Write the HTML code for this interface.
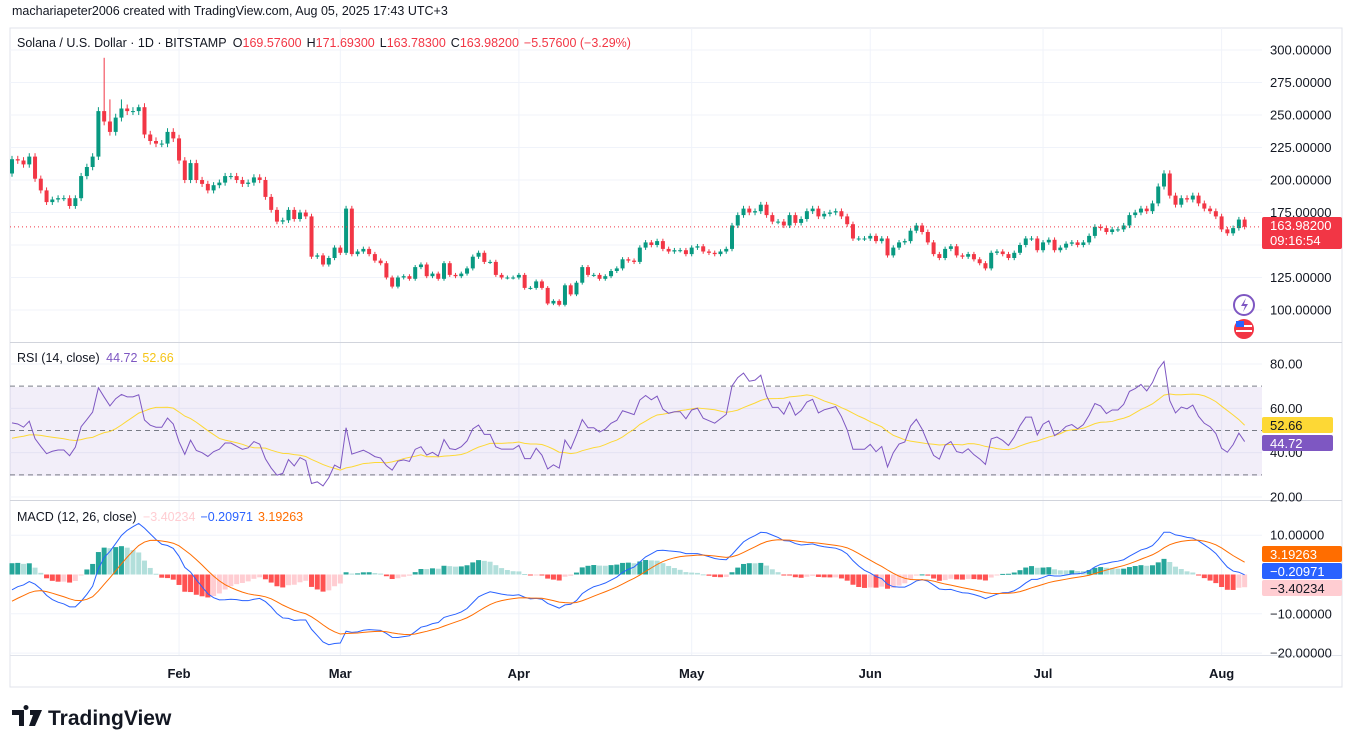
<!DOCTYPE html>
<html><head><meta charset="utf-8">
<style>
html,body{margin:0;padding:0;background:#fff;}
body{width:1355px;height:747px;overflow:hidden;font-family:"Liberation Sans",sans-serif;}
svg text{font-family:"Liberation Sans",sans-serif;}
</style></head>
<body>
<svg id="chart" width="1355" height="747" viewBox="0 0 1355 747" xmlns="http://www.w3.org/2000/svg">
  <text x="12" y="15" font-size="12.5" fill="#131722">machariapeter2006 created with TradingView.com, Aug 05, 2025 17:43 UTC+3</text>
  <rect x="10" y="28" width="1332" height="659" fill="none" stroke="#e0e3eb"/>
  <g id="grid"></g>
  <rect x="10" y="387" width="1252" height="89" fill="#7e57c2" fill-opacity="0.1"/>
  <g id="marks"></g>
  <line x1="10" x2="1342" y1="342.5" y2="342.5" stroke="#d1d4dc"/>
  <line x1="10" x2="1342" y1="500.5" y2="500.5" stroke="#d1d4dc"/>
  <line x1="10" x2="1342" y1="655.5" y2="655.5" stroke="#e0e3eb"/>
  <g id="axes"></g>
  <text x="17" y="47" font-size="12.5" fill="#131722">Solana / U.S. Dollar · 1D · BITSTAMP <tspan dx="3">O</tspan><tspan fill="#f23645">169.57600</tspan><tspan dx="5">H</tspan><tspan fill="#f23645">171.69300</tspan><tspan dx="5">L</tspan><tspan fill="#f23645">163.78300</tspan><tspan dx="5">C</tspan><tspan fill="#f23645">163.98200</tspan><tspan dx="5" fill="#f23645">−5.57600 (−3.29%)</tspan></text>
  <text x="17" y="362" font-size="12.5" fill="#131722">RSI (14, close) <tspan dx="3" fill="#7e57c2">44.72</tspan><tspan dx="5" fill="#f5c518">52.66</tspan></text>
  <text x="17" y="521" font-size="12.5" fill="#131722">MACD (12, 26, close) <tspan dx="3" fill="#ffcdd2">−3.40234</tspan><tspan dx="5" fill="#2962ff">−0.20971</tspan><tspan dx="5" fill="#ff6d00">3.19263</tspan></text>
  <g>
    <path d="M12 710h12v16h-5v-11h-7z M26 710a2.5 2.5 0 1 1 0.01 0z M30 710h12l-7 16h-6l4-11h-3z" fill="#131722"/>
    <text x="48" y="725" font-size="21" font-weight="bold" fill="#131722">TradingView</text>
  </g>
  <g><circle cx="1244" cy="305" r="10" fill="#fff" stroke="#7e57c2" stroke-width="2"/><path d="M1246 298l-5 8h4l-2 6 5-8h-4z" fill="#7e57c2"/></g>
  <g><circle cx="1244" cy="329" r="10" fill="#f23645"/><rect x="1236" y="325" width="16" height="2" fill="#fff"/><rect x="1236" y="330" width="16" height="2" fill="#fff"/><rect x="1236" y="321" width="8" height="6" fill="#2962ff"/></g>
</svg>
<script>
const closes = [
216,215,212,218,201,192,183,185,186,186,180,186,203,210,218,253,245,237,248,255,253,253,256,235,230,228,228,237,232,
215,200,213,200,197,192,196,198,203,203,200,197,198,202,200,187,177,168,169,177,170,175,172,141,142,135,140,148,
144,178,143,145,147,143,138,136,125,118,125,126,124,133,135,126,128,124,136,127,126,128,132,141,144,137,137,127,125,125,125,
127,117,117,122,117,105,107,104,119,112,121,133,127,127,124,126,130,132,139,138,137,148,152,150,153,147,145,146,146,143,
148,149,145,144,143,145,147,165,173,178,175,176,181,173,168,168,165,173,167,170,176,178,172,174,175,176,172,166,155,155,155,
157,153,155,142,148,152,153,161,165,160,152,143,140,147,149,142,141,143,139,136,132,144,145,143,140,144,150,155,155,146,
152,154,146,148,151,152,150,152,157,164,163,160,162,162,165,173,175,178,176,182,195,205,188,181,186,185,188,182,178,176,172,
162,159,163,169.576,163.982];
const highs = {16:294, 17:262, 19:262, 22:258};
const firstOpen = 205;
// warm-up seeds (state before the first visible bar)
const seedAvgGain = 4.2, seedAvgLoss = 4.4, seedRsiMa = 46;
const seedEma12 = 207, seedEma26 = 212, seedSignal = -7.5;
const priceTicks = [300,275,250,225,200,175,125,100];
const rsiTicks = [80,60,40,20];
const macdTicks = [10,-10,-20];
const monthLabels = ["Feb","Mar","Apr","May","Jun","Jul","Aug"];
const monthIndex = [29,57,88,118,149,179,210];
const lastClose = 163.982;

const NS="http://www.w3.org/2000/svg";
const marks=document.getElementById('marks'), grid=document.getElementById('grid'), axes=document.getElementById('axes');
function mk(tag,attrs,parent){const e=document.createElementNS(NS,tag);for(const k in attrs)e.setAttribute(k,attrs[k]);parent.appendChild(e);return e;}
const X0=12, DX=5.76, PLOTR=1262;
const xs=i=>X0+i*DX;
const yP=p=>50+(300-p)*1.3;
const yR=v=>364+(80-v)*2.217;
const yM=v=>574.5-v*3.93;

monthIndex.forEach((d,i)=>{
  const l=mk('line',{x1:xs(d),x2:xs(d),y1:28,y2:655,stroke:'#f0f3fa'},grid);
  
  
  const t=mk('text',{x:xs(d),y:678,'font-size':13,'font-weight':'bold','text-anchor':'middle',fill:'#131722'},axes);
  t.textContent=monthLabels[i];
  
  
});
[300,275,250,225,200,175,150,125,100].forEach(p=>{
  const l=mk('line',{x1:10,x2:PLOTR,y1:yP(p),y2:yP(p),stroke:'#f0f3fa'},grid);
  
  
});
rsiTicks.forEach(v=>{const l=mk('line',{x1:10,x2:PLOTR,y1:yR(v),y2:yR(v),stroke:'#f0f3fa'},grid);
  
  });
macdTicks.forEach(v=>{const l=mk('line',{x1:10,x2:PLOTR,y1:yM(v),y2:yM(v),stroke:'#f0f3fa'},grid);
  
  });

priceTicks.forEach(p=>{const t=mk('text',{x:1270,y:yP(p)+4.5,'font-size':13,fill:'#131722'},axes);t.textContent=p.toFixed(5);
  
  });
rsiTicks.forEach(v=>{const t=mk('text',{x:1270,y:yR(v)+4.5,'font-size':13,fill:'#131722'},axes);t.textContent=v.toFixed(2);
  
  });
macdTicks.forEach(v=>{const t=mk('text',{x:1270,y:yM(v)+4.5,'font-size':13,fill:'#131722'},axes);t.textContent=(v<0?'−':'')+Math.abs(v).toFixed(5);
  
  });

closes.forEach((c,i)=>{
  const o=i===0?firstOpen:closes[i-1];
  const up=c>=o, col=up?'#089981':'#f23645';
  const hi=highs[i]!==undefined?highs[i]:Math.max(o,c)*1.012, lo=Math.min(o,c)*0.988;
  const x=xs(i);
  const w=mk('line',{x1:x,x2:x,y1:yP(hi),y2:yP(lo),stroke:col,'stroke-width':1},marks);
  
  
  const y1=yP(Math.max(o,c)), y2=yP(Math.min(o,c));
  const b=mk('rect',{x:x-2,y:y1,width:4,height:Math.max(1,y2-y1),fill:col},marks);
  
  
});
const cl=mk('line',{x1:10,x2:PLOTR,y1:yP(lastClose),y2:yP(lastClose),stroke:'#f23645','stroke-dasharray':'1 3'},marks);



// RSI (Wilder) with warm-up seed
const rsi=[];let ag=seedAvgGain,al=seedAvgLoss;
for(let i=0;i<closes.length;i++){
  const prev=i===0?firstOpen:closes[i-1];const ch=closes[i]-prev;
  ag=(ag*13+Math.max(ch,0))/14;al=(al*13+Math.max(-ch,0))/14;
  rsi.push(al===0?100:100-100/(1+ag/al));
}
const rsiMa=rsi.map((v,i)=>{let s=0;for(let k=i-13;k<=i;k++)s+=k<0?seedRsiMa:rsi[k];return s/14;});
[70,50,30].forEach(v=>{const l=mk('line',{x1:10,x2:PLOTR,y1:yR(v),y2:yR(v),stroke:'#787b86','stroke-dasharray':'5 4'},marks);
  
  });
function poly(arr,yf,col,name){const p=mk('polyline',{points:arr.map((v,i)=>xs(i)+','+yf(v)).join(' '),fill:'none',stroke:col,'stroke-width':1},marks);
  
  }
poly(rsiMa,yR,'#fdd835','rsi-ma-line');
poly(rsi,yR,'#7e57c2','rsi-line');

function ema(a,n,seed){const k=2/(n+1);const r=[];let p=seed;a.forEach(v=>{p=v*k+p*(1-k);r.push(p);});return r;}
const e12=ema(closes,12,seedEma12),e26=ema(closes,26,seedEma26);
const macd=closes.map((_,i)=>e12[i]-e26[i]);
const sig=ema(macd,9,seedSignal);
const hist=macd.map((v,i)=>v-sig[i]);
hist.forEach((h,i)=>{
  const prev=i===0?h:hist[i-1];
  const col=h>=0?(h>=prev?'#26a69a':'#b2dfdb'):(h<prev?'#ff5252':'#ffcdd2');
  const y0=yM(0),y1=yM(h);
  const r=mk('rect',{x:xs(i)-2.5,y:Math.min(y0,y1),width:5,height:Math.max(1,Math.abs(y1-y0)),fill:col},marks);
  
  
});
poly(macd,yM,'#2962ff','macd-line');
poly(sig,yM,'#ff6d00','macd-signal-line');

function tag(y,h,bg,fg,lines,name){
  const g=mk('g',{},axes);
  
  
  mk('rect',{x:1262,y:y,width:(lines[0].length>6?80:71),height:h,fill:bg,rx:2},g);
  lines.forEach((s,k)=>{const t=mk('text',{x:1270,y:y+13+k*15,'font-size':13,fill:fg},g);t.textContent=s;});
}
tag(217,32,'#f23645','#fff',['163.98200','09:16:54'],'last-price-tag');
tag(417,16,'#fdd835','#131722',['52.66'],'rsi-ma-tag');
tag(435,16,'#7e57c2','#fff',['44.72'],'rsi-tag');
tag(546,16,'#ff6d00','#fff',['3.19263'],'macd-signal-tag');
tag(563,16,'#2962ff','#fff',['−0.20971'],'macd-tag');
tag(580,16,'#ffcdd2','#131722',['−3.40234'],'macd-hist-tag');
</script>
</body></html>
